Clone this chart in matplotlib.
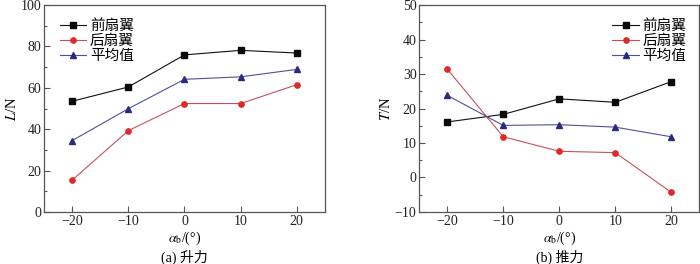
import numpy as np
import matplotlib
matplotlib.use('Agg')
import matplotlib.pyplot as plt
from matplotlib.ticker import MultipleLocator

plt.rcParams['font.family'] = ['Liberation Serif', 'Noto Sans CJK SC']
plt.rcParams['mathtext.fontset'] = 'stix'
plt.rcParams['axes.unicode_minus'] = True

# data
alpha_b = [-20, -10, 0, 10, 20]
series_names = ['前扇翼', '后扇翼', '平均值']

lift_front = [53.5, 60.4, 75.9, 78.1, 76.8]
lift_rear = [15.4, 39.3, 52.4, 52.4, 61.5]
lift_mean = [34.5, 49.9, 64.1, 65.3, 68.9]

thrust_front = [16.1, 18.3, 22.8, 21.8, 27.8]
thrust_rear = [31.4, 11.8, 7.6, 7.2, -4.3]
thrust_mean = [23.8, 15.1, 15.3, 14.6, 11.8]

line_colors = ['#111111', '#c8505e', '#505098']
marker_colors = ['#0a0a0a', '#e02828', '#2a2a82']
markers = ['s', 'o', '^']

fig = plt.figure(figsize=(7.0, 2.64), dpi=100)
ax1 = fig.add_axes([0.063, 0.197, 0.401, 0.784])
ax2 = fig.add_axes([0.599, 0.197, 0.400, 0.784])


def draw(ax, data, ylim, ymajor, ylabel, caption, legend_loc, legend_anchor):
    for vals, name, lc, mc, mk in zip(data, series_names, line_colors, marker_colors, markers):
        ax.plot(alpha_b, vals, color=lc, linewidth=0.8, marker=mk, markersize=3.8,
                markerfacecolor=mc, markeredgecolor=mc, label=name)
    ax.set_xlim(-25, 25)
    ax.set_ylim(*ylim)
    ax.set_xticks(alpha_b)
    ax.yaxis.set_major_locator(MultipleLocator(ymajor))
    ax.yaxis.set_minor_locator(MultipleLocator(ymajor / 2))
    ax.tick_params(direction='in', labelsize=10, length=4, width=0.8, colors='#555555',
                   labelcolor='#222222', pad=2)
    ax.tick_params(which='minor', direction='in', length=2.5, width=0.8, colors='#555555')
    for s in ax.spines.values():
        s.set_color('#555555')
        s.set_linewidth(0.9)
    ax.set_ylabel(ylabel, fontsize=10.5, labelpad=1)
    ax.set_xlabel(r'$\alpha_{\mathrm{b}}$/(°)' + '\n' + caption, fontsize=10, labelpad=1,
                  linespacing=1.25)
    ax.legend(loc=legend_loc, bbox_to_anchor=legend_anchor, frameon=False, fontsize=10.5,
              handlelength=1.8, handletextpad=0.25, labelspacing=0.12)


draw(ax1, [lift_front, lift_rear, lift_mean], (0, 100), 20, r'$L$/N', '(a) 升力',
     'upper left', (0.01, 0.995))
draw(ax2, [thrust_front, thrust_rear, thrust_mean], (-10, 50), 10, r'$T$/N', '(b) 推力',
     'upper right', (1.0, 0.995))

fig.savefig('out.png', dpi=100)
